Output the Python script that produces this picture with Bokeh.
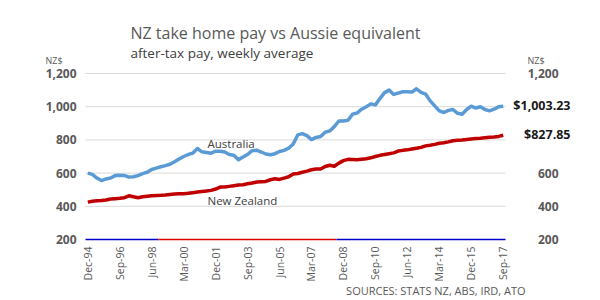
import math
from bokeh.plotting import figure
from bokeh.models import Label, Range1d
from bokeh.core.properties import value
from bokeh.embed import file_html
from bokeh.resources import INLINE

# ---------------- data ----------------
tick_labels = ["Dec-94", "Sep-96", "Jun-98", "Mar-00", "Dec-01", "Sep-03", "Jun-05",
               "Mar-07", "Dec-08", "Sep-10", "Jun-12", "Mar-14", "Dec-15", "Sep-17"]
tick_step = 7  # quarters between labels

australia = [600, 592, 570, 555, 565, 570, 585, 587, 586, 576,
             578, 585, 597, 605, 622, 630, 638, 645, 653, 668,
             685, 700, 712, 720, 748, 728, 724, 720, 732, 732,
             727, 712, 708, 680, 697, 712, 735, 738, 727, 715,
             711, 717, 730, 737, 750, 775, 830, 838, 826, 802,
             815, 820, 846, 854, 880, 914, 914, 918, 955, 962,
             985, 1000, 1017, 1011, 1049, 1085, 1100, 1074, 1082, 1090,
             1090, 1088, 1108, 1086, 1076, 1035, 1005, 975, 965, 978,
             983, 960, 955, 983, 1003, 992, 1000, 983, 975, 985,
             1000, 1003.23]
new_zealand = [425, 430, 433, 435, 438, 444, 446, 448, 452, 463,
               458, 452, 457, 461, 463, 465, 466, 468, 471, 474,
               475, 476, 478, 482, 486, 489, 492, 496, 504, 516,
               516, 520, 524, 528, 530, 536, 540, 546, 548, 550,
               560, 566, 562, 570, 578, 595, 598, 605, 612, 620,
               625, 625, 640, 647, 641, 660, 675, 683, 682, 680,
               683, 686, 692, 700, 707, 712, 717, 722, 733, 737,
               740, 745, 750, 755, 764, 768, 773, 780, 783, 788,
               795, 798, 800, 803, 806, 808, 810, 813, 816, 818,
               821, 827.85]
left_ticks = [200, 400, 600, 800, 1000, 1200]
right_ticks = [200, 400, 600, 1200]
# baseline colour bands (start index, end index, colour)
band_starts = [-0.5, 15.5, 54.5]
band_ends = [15.5, 54.5, 91.5]
band_colors = ["#0000CC", "#DD0000", "#0000CC"]

n = len(australia)
idx = list(range(n))

# ---------------- geometry (plot area in pixels) ----------------
W, H = 600, 300
FL, FR, FT, FB = 85, 505, 73, 239
YMIN, YMAX = 200, 1200


def fx(px):
    return -0.5 + (px - FL) / (FR - FL) * n


def fy(py):
    return YMIN + (FB - py) / (FB - FT) * (YMAX - YMIN)


p = figure(width=W, height=H, output_backend="svg", toolbar_location=None,
           x_axis_type=None, y_axis_type=None,
           x_range=Range1d(fx(0), fx(W)), y_range=Range1d(fy(H), fy(0)),
           min_border=0)
p.outline_line_color = None
p.background_fill_color = "white"
p.border_fill_color = "white"
p.grid.visible = False

FONT = "Open Sans"
GREY = "#595959"

# gridlines
gl = left_ticks[1:]
p.segment(x0=[-0.5] * len(gl), x1=[n - 0.5] * len(gl), y0=gl, y1=gl,
          line_color="#D9D9D9", line_width=1)

# baseline bands
p.segment(x0=band_starts, x1=band_ends, y0=[YMIN] * 3, y1=[YMIN] * 3,
          line_color=band_colors, line_width=1.3)

# series
p.line(idx, australia, line_color="#5B9BD5", line_width=3.5, line_join="round")
p.line(idx, new_zealand, line_color="#C00000", line_width=3.5, line_join="round")

# left tick labels
p.text(x=[fx(76)] * len(left_ticks), y=left_ticks, text=[f"{v:,}" for v in left_ticks],
       text_font=value(FONT), text_font_size="12px", text_font_style="bold",
       text_color=GREY, text_align="right", text_baseline="middle")
# right tick labels
p.text(x=[fx(558)] * len(right_ticks), y=right_ticks, text=[f"{v:,}" for v in right_ticks],
       text_font=value(FONT), text_font_size="12px", text_font_style="bold",
       text_color=GREY, text_align="right", text_baseline="middle")
# x tick labels
xt = [i * tick_step for i in range(len(tick_labels))]
p.text(x=xt, y=[fy(246)] * len(xt), text=tick_labels, angle=math.pi / 2,
       text_font=value(FONT), text_font_size="10.5px", text_color=GREY,
       text_align="right", text_baseline="middle")
# end value labels
ends = [australia[-1], new_zealand[-1]]
p.text(x=[fx(570)] * 2, y=ends, y_offset=-1, text=[f"${v:,.2f}" for v in ends],
       text_font=value(FONT), text_font_size="12.5px", text_font_style="bold",
       text_color="#1a1a1a", text_align="right", text_baseline="middle")


def lab(px, py, text, size, color=GREY, align="left", baseline="middle", style="normal"):
    p.add_layout(Label(x=fx(px), y=fy(py), text=text, text_font=FONT,
                       text_font_size=size, text_color=color, text_align=align,
                       text_baseline=baseline, text_font_style=style))


# titles
lab(130, 32.5, "NZ take home pay vs Aussie equivalent", "16px", baseline="alphabetic")
lab(130, 52, "after-tax pay, weekly average", "13.5px", color="#404040", baseline="alphabetic")
lab(45, 60, "NZ$", "9px")
lab(527, 60, "NZ$", "9px")

# series names
lab(207, 142.5, "Australia", "11.5px", color="#404040")
lab(207, 200, "New Zealand", "11.5px", color="#404040")

# sources
lab(525, 290, "SOURCES: STATS NZ, ABS, IRD, ATO", "11px", align="right")

open("out.html", "w").write(file_html(p, INLINE))
